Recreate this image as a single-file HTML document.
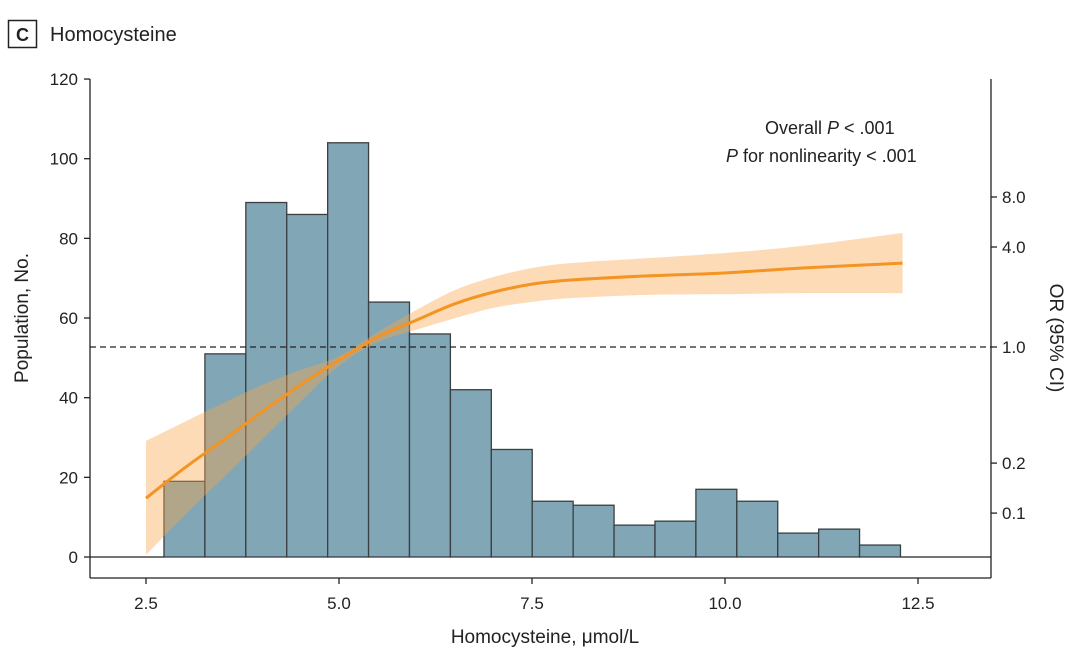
<!DOCTYPE html>
<html><head><meta charset="utf-8"><style>
body{margin:0;background:#fff;}
svg text{font-family:"Liberation Sans",sans-serif;fill:#222;}
</style></head><body>
<svg width="1080" height="666" viewBox="0 0 1080 666">
<g>
<rect x="8.5" y="20.5" width="28" height="27" fill="#fff" stroke="#222" stroke-width="1.5"/>
<text x="22.5" y="41" font-size="18" font-weight="bold" text-anchor="middle">C</text>
<text x="50" y="41" font-size="20">Homocysteine</text>
</g>
<g id="plot"></g>
<text x="765" y="134" font-size="18">Overall <tspan font-style="italic">P</tspan> &lt; .001</text>
<text x="726" y="162" font-size="18"><tspan font-style="italic">P</tspan> for nonlinearity &lt; .001</text>
<text x="545" y="643" font-size="19" text-anchor="middle">Homocysteine, μmol/L</text>
<text transform="translate(28,318) rotate(-90)" font-size="19" text-anchor="middle">Population, No.</text>
<text transform="translate(1050,338) rotate(90)" font-size="19" text-anchor="middle">OR (95% CI)</text>
</svg>
<script>
const binStart = 2.733, binWidth = 0.53;
const counts = [19,51,89,86,104,64,56,42,27,14,13,8,9,17,14,6,7,3];
const xTicks = [2.5,5.0,7.5,10.0,12.5];
const yTicks = [0,20,40,60,80,100,120];
const orTicks = [0.1,0.2,1.0,4.0,8.0];
const curveX = [2.5,3.0,3.5,4.0,4.5,5.0,5.5,6.0,6.5,7.0,7.5,8.0,9.0,10.0,11.0,12.3];
const orEst = [0.123,0.187,0.275,0.406,0.59,0.835,1.15,1.45,1.82,2.14,2.39,2.53,2.68,2.79,2.99,3.2];
const orUpper = [0.272,0.354,0.46,0.59,0.727,0.88,1.23,1.67,2.2,2.64,2.99,3.2,3.43,3.68,4.06,4.86];
const orLower = [0.056,0.097,0.163,0.275,0.467,0.77,1.07,1.27,1.49,1.72,1.87,1.97,2.06,2.08,2.11,2.11];

const NS="http://www.w3.org/2000/svg";
const g=document.getElementById('plot');
const X=v=>146+(v-2.5)*77.2;
const Y=v=>557-v*3.983;
const YR=v=>347-Math.log2(v)*50;
function mk(t,a,p){const e=document.createElementNS(NS,t);for(const k in a)e.setAttribute(k,a[k]);(p||g).appendChild(e);return e;}
function smooth(pts,start){
 let d=(start?'M':'L')+pts[0][0]+','+pts[0][1];
 for(let i=0;i<pts.length-1;i++){
  const p0=pts[Math.max(0,i-1)],p1=pts[i],p2=pts[i+1],p3=pts[Math.min(pts.length-1,i+2)];
  d+='C'+(p1[0]+(p2[0]-p0[0])/6)+','+(p1[1]+(p2[1]-p0[1])/6)+' '+(p2[0]-(p3[0]-p1[0])/6)+','+(p2[1]-(p3[1]-p1[1])/6)+' '+p2[0]+','+p2[1];
 }
 return d;
}

counts.forEach((c,i)=>{
 const x0=X(binStart+i*binWidth),x1=X(binStart+(i+1)*binWidth);
 const r=mk('rect',{x:x0,y:Y(c),width:x1-x0,height:Y(0)-Y(c),fill:'#81a6b5',stroke:'#3a3f42','stroke-width':1.3});
 
 
});
let l=mk('line',{x1:90,x2:X(binStart),y1:557,y2:557,stroke:'#222','stroke-width':1.3});


l=mk('line',{x1:X(binStart+counts.length*binWidth),x2:991,y1:557,y2:557,stroke:'#222','stroke-width':1.3});



const up=curveX.map((x,i)=>[X(x),YR(orUpper[i])]);
const lo=curveX.map((x,i)=>[X(x),YR(orLower[i])]).reverse();
const band=mk('path',{d:smooth(up,true)+smooth(lo,false)+'Z',fill:'#f9a54a','fill-opacity':0.4});



l=mk('line',{x1:90,x2:991,y1:YR(1),y2:YR(1),stroke:'#222','stroke-width':1.3,'stroke-dasharray':'6,4'});



const cl=mk('path',{d:smooth(curveX.map((x,i)=>[X(x),YR(orEst[i])]),true),fill:'none',stroke:'#f39423','stroke-width':3,'stroke-linejoin':'round'});



[['left-axis',90,79,90,578],['right-axis',991,79,991,578],['x-axis',90,578,991,578]].forEach(a=>{
 const e=mk('line',{x1:a[1],y1:a[2],x2:a[3],y2:a[4],stroke:'#222','stroke-width':1.3});
 
 
});
xTicks.forEach(v=>{
 const t=mk('line',{x1:X(v),x2:X(v),y1:578,y2:584,stroke:'#222','stroke-width':1.3});
 
 
 const s=mk('text',{x:X(v),y:609,'font-size':17,'text-anchor':'middle'});s.textContent=v.toFixed(1);
 
 
});
yTicks.forEach(v=>{
 const t=mk('line',{x1:84,x2:90,y1:Y(v),y2:Y(v),stroke:'#222','stroke-width':1.3});
 
 
 const s=mk('text',{x:78,y:Y(v)+6,'font-size':17,'text-anchor':'end'});s.textContent=v;
 
 
});
orTicks.forEach(v=>{
 const t=mk('line',{x1:991,x2:997,y1:YR(v),y2:YR(v),stroke:'#222','stroke-width':1.3});
 
 
 const s=mk('text',{x:1002,y:YR(v)+6,'font-size':17});s.textContent=v.toFixed(1);
 
 
});
</script>
</body></html>
